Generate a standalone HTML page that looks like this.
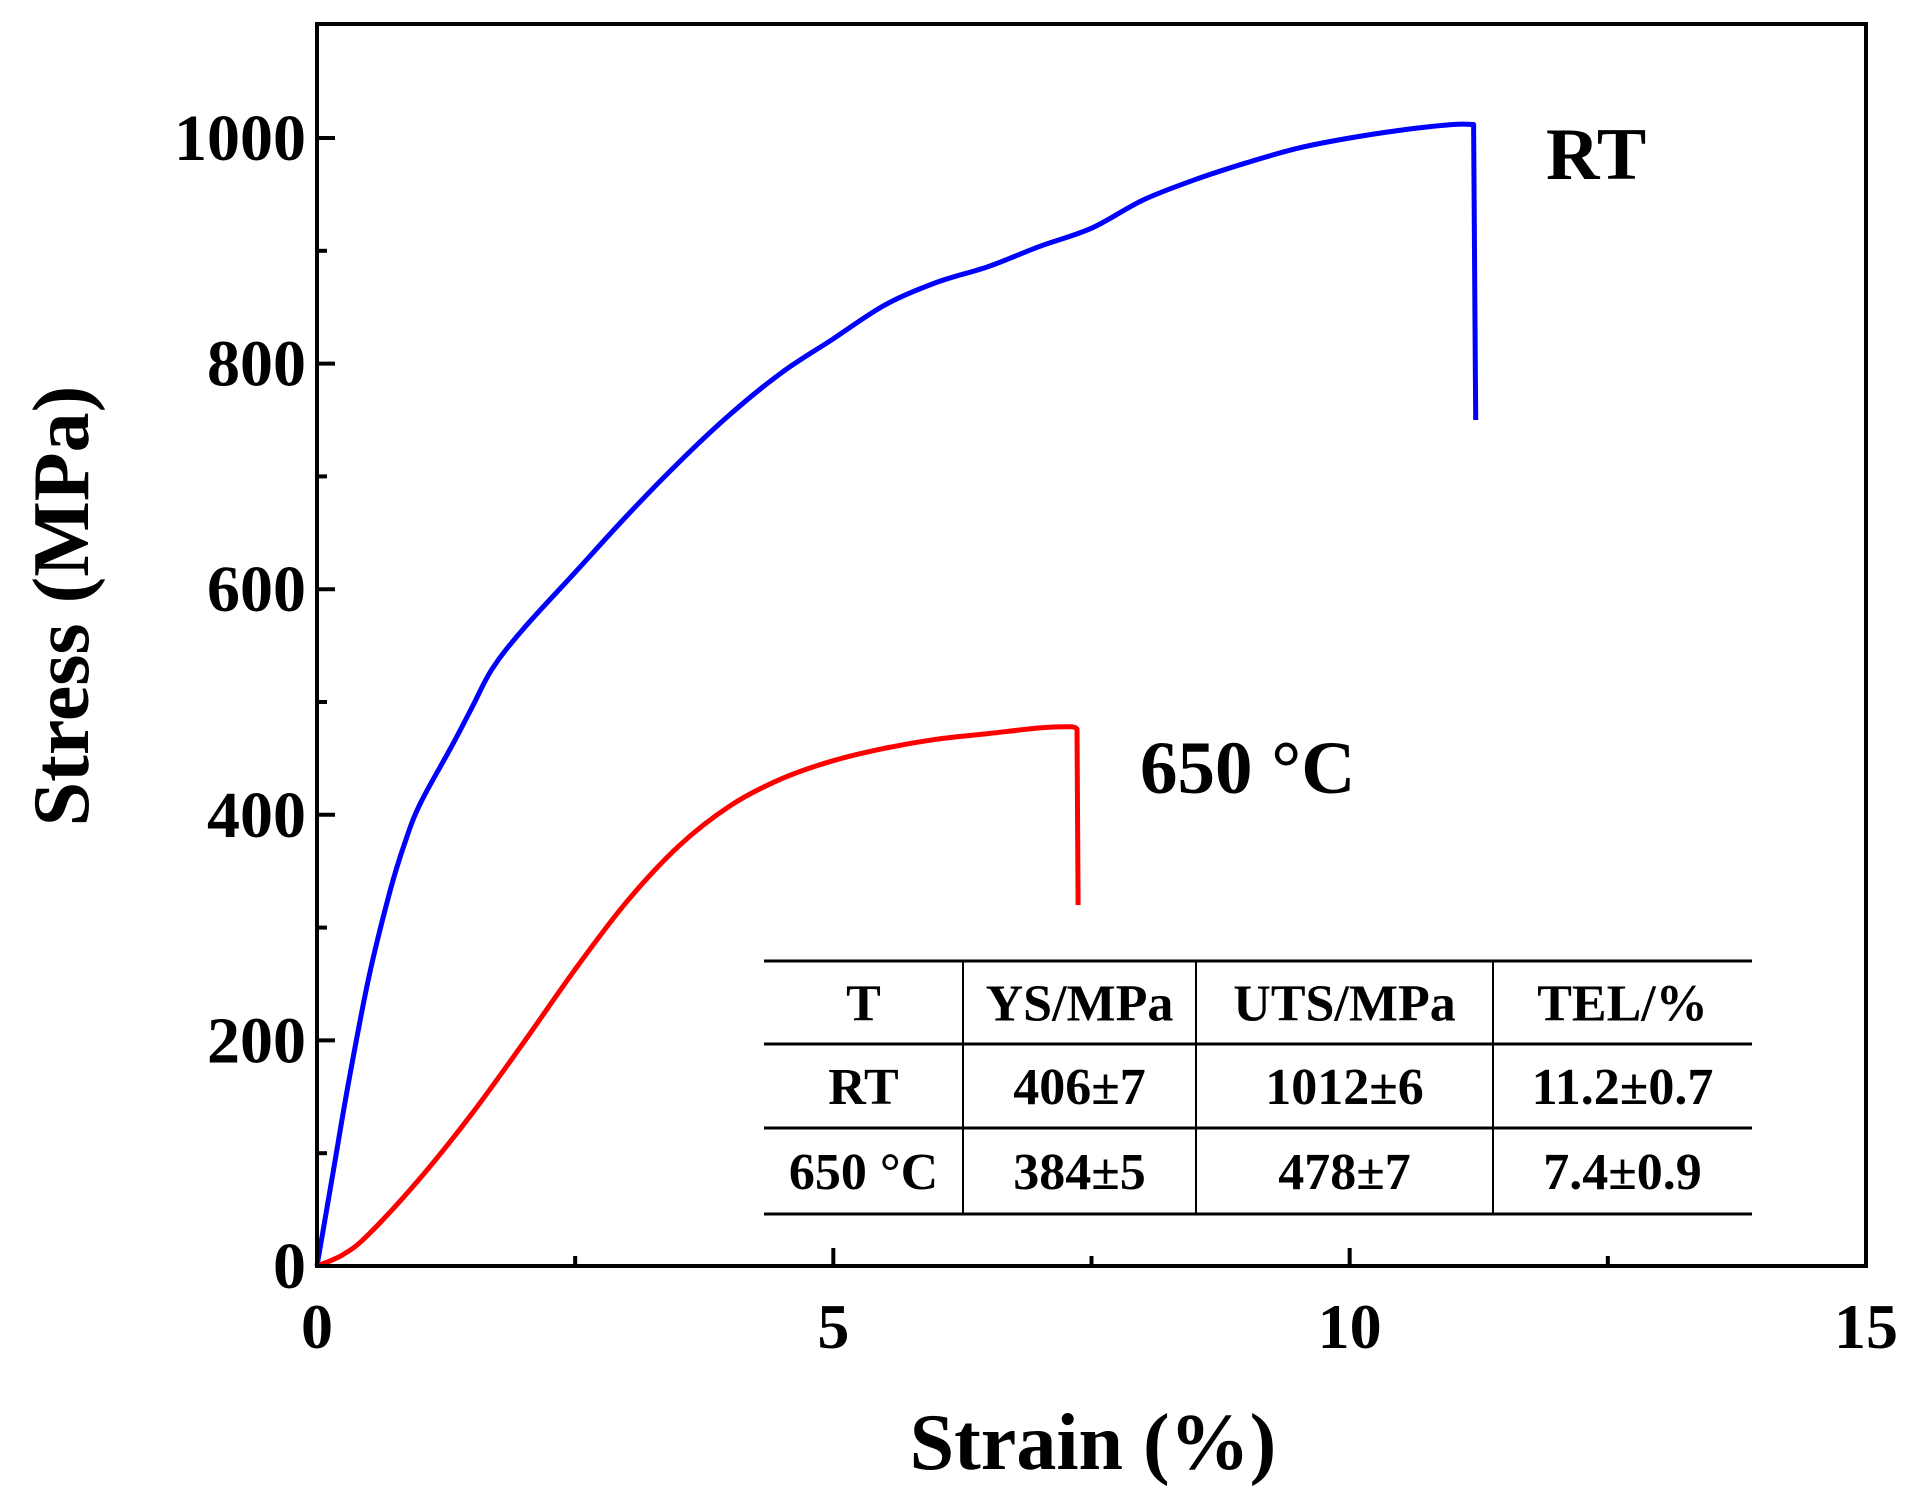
<!DOCTYPE html>
<html><head><meta charset="utf-8"><style>
html,body{margin:0;padding:0;background:#fff;}
svg{display:block;font-family:"Liberation Serif",serif;font-weight:bold;}
</style></head><body>
<svg id="chart" width="1913" height="1506" viewBox="0 0 1913 1506">
<g id="plot"></g>
</svg>
<script>
const xTicks=[0,5,10,15];
const yTicks=[0,200,400,600,800,1000];
const rtStrain=[0,0.15,0.3,0.5,0.7,0.85,1.0,1.3,1.5,1.7,2,2.5,3,3.5,4,4.5,5,5.5,6,6.5,7,7.5,8,8.5,9,9.5,10,10.5,11,11.2,11.22];
const rtStress=[0,80,160,255,330,375,410,460,495,530,565,615,665,712,755,792,822,852,872,886,904,920,945,963,978,991,1000,1007,1012,1012,750];
const htStrain=[0,0.25,0.5,1,1.5,2,2.5,3,3.5,4,4.5,5,5.5,6,6.5,7,7.3,7.36,7.37];
const htStress=[0,10,28,78,135,198,263,323,372,408,432,448,459,467,472,477,478,476,320];
const tableHead=["T","YS/MPa","UTS/MPa","TEL/%"];
const tableRows=[["RT","406±7","1012±6","11.2±0.7"],["650 °C","384±5","478±7","7.4±0.9"]];

const L=317,R=1866,T=24,B=1266;
const xS=v=>L+(v/15)*(R-L);
const yS=v=>B-(v/1000)*(B-138);
const NS="http://www.w3.org/2000/svg";
const g=document.getElementById('plot');
function mk(tag,attrs,text){const e=document.createElementNS(NS,tag);for(const k in attrs)e.setAttribute(k,attrs[k]);if(text!==undefined)e.textContent=text;g.appendChild(e);return e;}

function curve(xs,ys,color,name){
  const p=xs.map((x,i)=>[xS(x),yS(ys[i])]);
  const n=p.length;
  let d='M'+p[0][0].toFixed(1)+','+p[0][1].toFixed(1);
  for(let i=0;i<n-1;i++){
    if(i>=n-2){d+=' L'+p[i+1][0].toFixed(1)+','+p[i+1][1].toFixed(1);continue;}
    const p0=p[Math.max(0,i-1)],p1=p[i],p2=p[i+1],p3=(i+2<n-1)?p[i+2]:p[i+1];
    const c1=[p1[0]+(p2[0]-p0[0])/6,p1[1]+(p2[1]-p0[1])/6];
    const c2=[p2[0]-(p3[0]-p1[0])/6,p2[1]-(p3[1]-p1[1])/6];
    d+=' C'+c1[0].toFixed(1)+','+c1[1].toFixed(1)+' '+c2[0].toFixed(1)+','+c2[1].toFixed(1)+' '+p2[0].toFixed(1)+','+p2[1].toFixed(1);
  }
  const el=mk('path',{d:d,fill:'none',stroke:color,'stroke-width':5,'stroke-linejoin':'round'});
  
  
}
curve(rtStrain,rtStress,'#0000ff','rt-curve');
curve(htStrain,htStress,'#ff0000','650c-curve');

const fr=mk('rect',{x:L,y:T,width:R-L,height:B-T,fill:'none',stroke:'#000','stroke-width':4});



for(let v=0;v<=15;v+=2.5){
  const len=(v%5===0)?18:10;
  const t=mk('line',{x1:xS(v),x2:xS(v),y1:B,y2:B-len,stroke:'#000','stroke-width':4});
  
  
}
xTicks.forEach(v=>{
  const t=mk('text',{x:xS(v),y:1348,'text-anchor':'middle','font-size':64},String(v));
  
  
});
for(let v=0;v<=1000;v+=100){
  const len=(v%200===0)?18:10;
  const t=mk('line',{x1:L,x2:L+len,y1:yS(v),y2:yS(v),stroke:'#000','stroke-width':4});
  
  
}
yTicks.forEach(v=>{
  const t=mk('text',{x:306,y:yS(v)+22,'text-anchor':'end','font-size':66},String(v));
  
  
});
let t=mk('text',{x:1093,y:1469,'text-anchor':'middle','font-size':80},'Strain (%)');


t=mk('text',{x:0,y:0,'text-anchor':'middle','font-size':80,transform:'translate(88,606) rotate(-90)'},'Stress (MPa)');


t=mk('text',{x:1546,y:179,'font-size':74},'RT');


t=mk('text',{x:1140,y:793,'font-size':75},'650 °C');



const tx=[764,963,1196,1493,1752], ty=[961,1044,1128,1214];
ty.forEach(y=>{
  const l=mk('line',{x1:tx[0],x2:tx[4],y1:y,y2:y,stroke:'#000','stroke-width':3});
  
  
});
[1,2,3].forEach(i=>{
  const l=mk('line',{x1:tx[i],x2:tx[i],y1:ty[0],y2:ty[3],stroke:'#000','stroke-width':2});
  
  
});
[tableHead].concat(tableRows).forEach((row,r)=>{
  row.forEach((c,i)=>{
    const e=mk('text',{x:(tx[i]+tx[i+1])/2,y:(ty[r]+ty[r+1])/2+18,'text-anchor':'middle','font-size':52},c);
    
    
  });
});
</script>
</body></html>
